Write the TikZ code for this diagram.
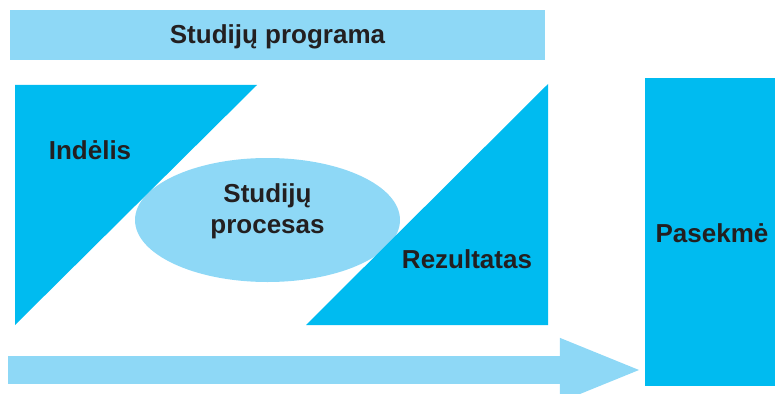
\documentclass[tikz,border=0pt]{standalone}
\usepackage{fontspec}
\setmainfont{Liberation Sans}
\usetikzlibrary{arrows.meta}
\usetikzlibrary{positioning}
\usetikzlibrary{shapes.geometric}
\usetikzlibrary{calc}
\definecolor{deepblue}{RGB}{0,187,240}
\definecolor{paleblue}{RGB}{142,216,246}
\definecolor{inktext}{RGB}{35,31,32}

\begin{document}
\begin{tikzpicture}[x=1pt,y=-1pt,
        boxtext/.style={text=inktext,font=\fontsize{26}{31}\selectfont\bfseries,align=center},
        band/.style={fill=paleblue,inner sep=0pt,boxtext}]
                \useasboundingbox (0,0) rectangle (775,393);
                \node[band,minimum width=535pt,minimum height=50pt,text height=18pt,text depth=0pt] (program) at (277.5,35) {Studijų programa};
                \node[ellipse,band,minimum width=265pt,minimum height=124pt] (process) at (267.5,220) {};
                \coordinate (in_a) at (15,85);
                \coordinate (in_b) at (257,85);
                \coordinate (in_c) at (15,325);
                \coordinate (out_a) at (548,84);
                \coordinate (out_b) at (548,325);
                \coordinate (out_c) at (306,325);
                \fill[deepblue] (in_a) -- (in_b) -- (in_c) -- cycle;
                \fill[deepblue] (out_a) -- (out_b) -- (out_c) -- cycle;
                \node[boxtext,anchor=base] (input) at (90,159) {Indėlis};
                \node[boxtext] (process_text) at (process.center) [yshift=9pt] {Studijų\\procesas};
                \node[boxtext,anchor=base] (output) at (467,268) {Rezultatas};
                \node[fill=deepblue,inner sep=0pt,boxtext,minimum width=134pt,minimum height=308pt,text height=20pt,text depth=0pt] (outcome) at (712,232) {Pasekmė};
                \coordinate (flow_start) at (8,370);
                \draw[paleblue,line width=28pt,-{Triangle[length=84pt,width=57pt]},shorten >=1pt]
                    (flow_start) -- (flow_start -| outcome.west);
            \end{tikzpicture}
\end{document}
